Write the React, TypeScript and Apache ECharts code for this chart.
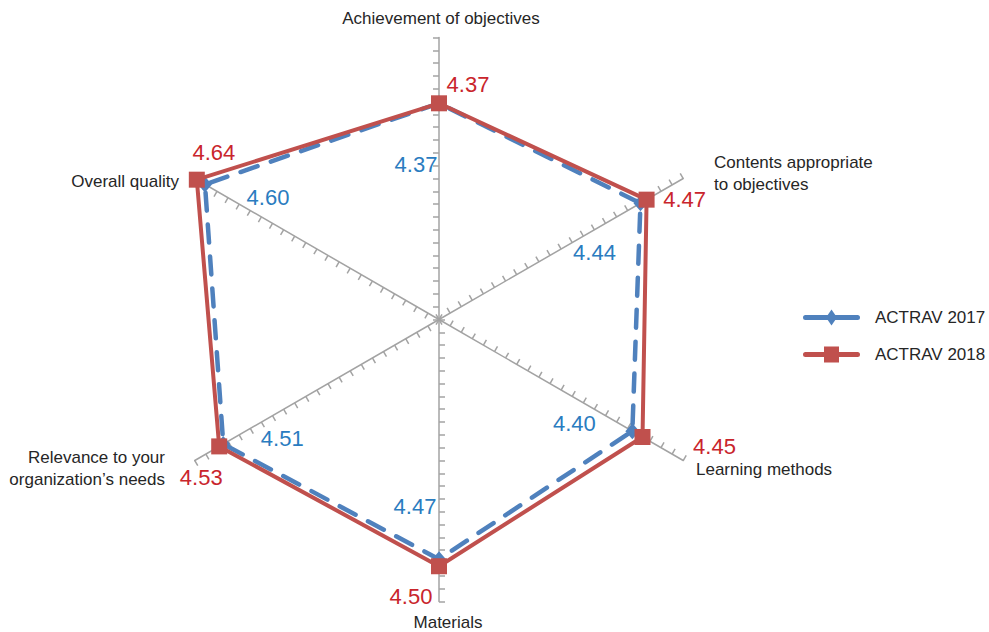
import React, { useEffect, useRef } from "react";
import * as echarts from "echarts";

// Axis order runs counter-clockwise from the top (ECharts radar order)
const categories = [
  "Achievement of objectives",
  "Overall quality",
  "Relevance to your\norganization’s needs",
  "Materials",
  "Learning methods",
  "Contents appropriate\nto objectives",
];
const seriesNames = ["ACTRAV 2017", "ACTRAV 2018"];
const values2017 = [4.37, 4.6, 4.51, 4.47, 4.4, 4.44];
const values2018 = [4.37, 4.64, 4.53, 4.5, 4.45, 4.47];
const axisMin = 3.45;
const axisMax = 4.65;
const tickCount = 22;

// which side the ticks sit on, per axis (style only)
const tickInside = [true, true, true, false, false, false];

// label offsets relative to the vertex symbol (layout only)
const offsets2017: [number, number][] = [[-23, 61], [63, 13], [59, -6], [-24, -53], [-58, -8], [-46, 49]];
const offsets2018: [number, number][] = [[29, -19], [17, -27], [-18, 31], [-28, 30], [72, 9], [38, 0]];

// name placements (layout only): x, y, align
const namePlaces: [number, number, string][] = [
  [441, 18, "center"],
  [179, 181, "right"],
  [165, 468, "right"],
  [448, 622, "center"],
  [696, 469, "left"],
  [714, 173, "left"],
];

const FONT = '"Liberation Sans", Arial, sans-serif';
const BLUE = "#4f81bd";
const RED = "#c0504d";
const BLUE_TXT = "#2a7cc0";
const RED_TXT = "#c9252c";

const ICON_2017 =
  "path://M2.5,5.5 L54.5,5.5 A2.5,2.5 0 0 1 54.5,10.5 L2.5,10.5 A2.5,2.5 0 0 1 2.5,5.5 Z M28.5,0 L34,8 L28.5,16 L23,8 Z";
const ICON_2018 =
  "path://M2.5,5.5 L54.5,5.5 A2.5,2.5 0 0 1 54.5,10.5 L2.5,10.5 A2.5,2.5 0 0 1 2.5,5.5 Z M21,0 L36,0 L36,16 L21,16 Z";

function makeLayout(vals: number[], offs: [number, number][]) {
  const texts = vals.map((v) => v.toFixed(2));
  return (p: any) => {
    const i = texts.indexOf(p.text);
    if (i < 0) return {};
    return { dx: offs[i][0], dy: offs[i][1] };
  };
}

export default function App() {
  const ref = useRef<HTMLDivElement>(null);
  useEffect(() => {
    if (!ref.current) return;
    const chart = echarts.init(ref.current, undefined, { renderer: "svg" });
    const axisColor = "#a3a3a3";
    chart.setOption({
      animation: false,
      backgroundColor: "#ffffff",
      textStyle: { fontFamily: FONT },
      legend: {
        orient: "vertical",
        left: 798,
        top: 304,
        itemWidth: 57,
        itemHeight: 16,
        itemGap: 20,
        itemStyle: { borderWidth: 0 },
        textStyle: { fontSize: 17, color: "#262626", fontFamily: FONT, padding: [0, 0, 0, 10] },
        data: [
          { name: seriesNames[0], icon: ICON_2017 },
          { name: seriesNames[1], icon: ICON_2018 },
        ],
      },
      radar: {
        center: [439, 319.5],
        radius: 282,
        startAngle: 90,
        splitNumber: tickCount,
        shape: "polygon",
        indicator: categories.map((name, i) => ({
          name,
          min: axisMin,
          max: axisMax,
          axisTick: { inside: tickInside[i] },
        })),
        axisName: { show: false },
        splitLine: { show: false },
        splitArea: { show: false },
        axisLine: { show: true, lineStyle: { color: axisColor, width: 1.5 } },
        axisTick: { show: true, length: 6, lineStyle: { color: axisColor, width: 1.5 } },
        axisLabel: { show: false },
      },
      graphic: categories.map((name, i) => ({
        type: "text",
        x: namePlaces[i][0],
        y: namePlaces[i][1],
        style: {
          text: name,
          fontSize: 17,
          fontFamily: FONT,
          fill: "#262626",
          align: namePlaces[i][2],
          verticalAlign: "middle",
          lineHeight: 22,
        },
      })),
      series: [
        {
          type: "radar",
          name: seriesNames[0],
          symbol: "diamond",
          symbolSize: [14, 16],
          itemStyle: { color: BLUE },
          lineStyle: { color: BLUE, width: 4.5, type: [18, 14], cap: "round" },
          label: {
            show: true,
            position: "inside",
            formatter: (p: any) => Number(p.value).toFixed(2),
            color: BLUE_TXT,
            fontSize: 22,
            fontFamily: FONT,
            textBorderWidth: 0,
          },
          labelLayout: makeLayout(values2017, offsets2017),
          data: [{ name: seriesNames[0], value: values2017 }],
          z: 2,
        },
        {
          type: "radar",
          name: seriesNames[1],
          symbol: "rect",
          symbolSize: 16,
          itemStyle: { color: RED },
          lineStyle: { color: RED, width: 4 },
          label: {
            show: true,
            position: "inside",
            formatter: (p: any) => Number(p.value).toFixed(2),
            color: RED_TXT,
            fontSize: 22,
            fontFamily: FONT,
            textBorderWidth: 0,
          },
          labelLayout: makeLayout(values2018, offsets2018),
          data: [{ name: seriesNames[1], value: values2018 }],
          z: 3,
        },
      ],
    });
    return () => chart.dispose();
  }, []);
  return (
    <div
      ref={ref}
      style={{ position: "fixed", left: 0, top: 0, width: 989, height: 632, background: "#fff" }}
    />
  );
}
